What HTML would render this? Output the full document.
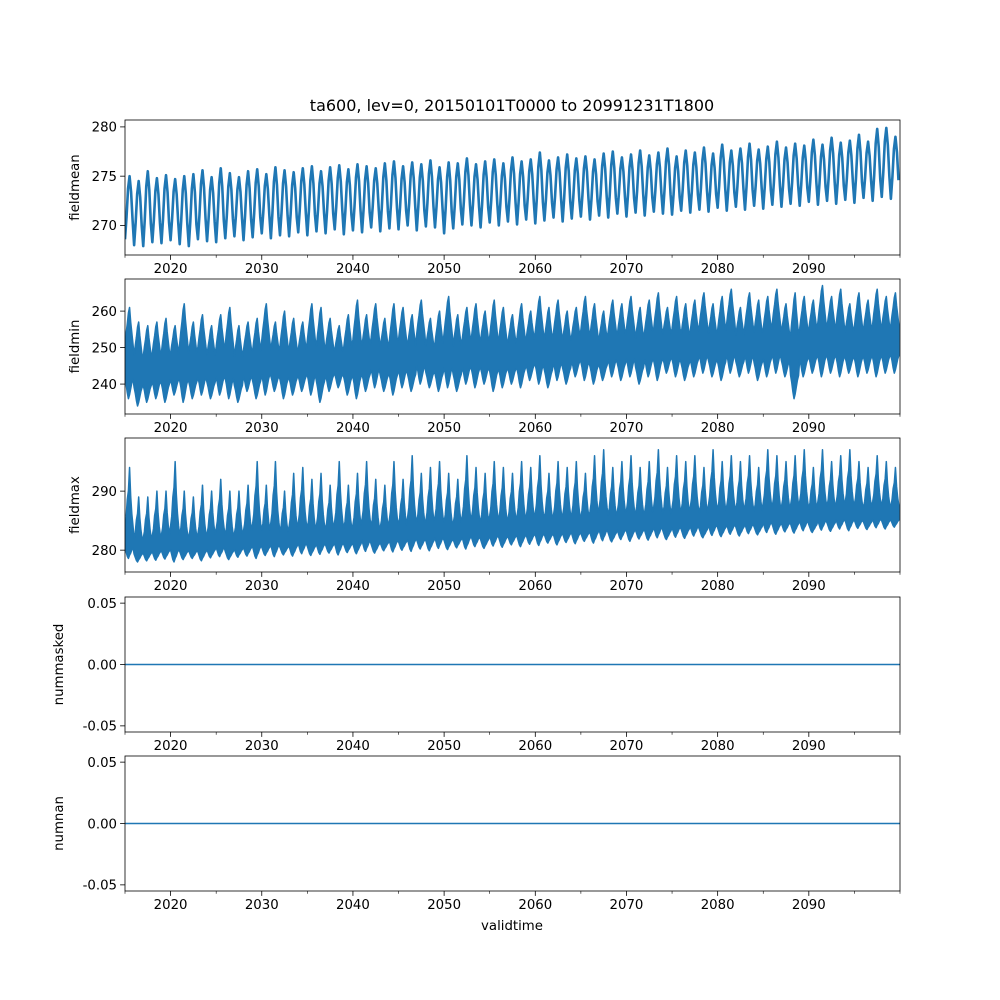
<!DOCTYPE html>
<html><head><meta charset="utf-8">
<style>
body{margin:0;background:#fff;}
svg{display:block;font-family:"DejaVu Sans","Liberation Sans",sans-serif;}
</style></head>
<body>
<svg id="fig" width="1000" height="1000" viewBox="0 0 1000 1000">
<rect width="1000" height="1000" fill="#fff"/>
<text x="512" y="111" font-size="16" text-anchor="middle">ta600, lev=0, 20150101T0000 to 20991231T1800</text>
<text x="512" y="930" font-size="13.3" text-anchor="middle">validtime</text>
</svg>
<script>
// ---- data ----
const startYear = 2015;
const xTicks = [2020,2030,2040,2050,2060,2070,2080,2090];
const xMinorTicks = [2015,2025,2035,2045,2055,2065,2075,2085,2095,2100];
const meanHi = [275.0,274.5,275.5,274.8,275.1,274.7,275.0,275.2,275.6,274.9,275.8,275.3,274.9,275.5,275.7,275.2,275.9,275.6,275.4,275.8,276.0,275.5,275.9,276.1,275.7,276.2,276.0,275.8,276.3,276.5,276.0,276.4,276.2,276.6,275.9,276.4,276.3,276.8,276.2,276.5,276.7,276.3,276.9,276.5,276.7,277.4,276.6,276.9,277.2,276.8,277.0,276.7,277.3,277.5,276.9,277.2,277.6,277.1,277.4,277.8,277.0,277.6,277.4,277.9,277.3,278.2,277.6,277.8,278.3,277.7,278.0,278.5,277.9,278.3,278.1,278.7,278.2,278.9,278.4,278.6,279.2,278.5,279.8,279.9,279.0];
const meanLo = [268.6,268.0,267.9,268.3,268.2,268.5,268.1,267.9,268.6,268.4,268.3,268.7,268.9,268.5,268.8,269.2,268.7,269.0,268.9,269.3,269.0,269.4,269.2,269.6,269.1,269.5,269.3,269.8,269.4,269.7,269.6,270.0,269.5,269.9,269.8,269.2,269.7,270.1,270.0,269.8,270.3,270.0,270.4,270.1,270.6,270.2,270.5,270.8,270.4,270.7,270.9,270.6,271.0,270.8,271.2,270.9,271.3,271.0,271.4,271.2,271.1,271.5,271.3,271.6,271.4,271.8,271.5,271.9,271.6,272.0,271.7,272.1,271.9,272.2,272.0,272.4,272.1,272.5,272.2,272.6,272.3,272.8,272.5,272.9,272.7];
const minHi = [261,257,256,257,258,256,262,257,259,256,259,261,256,257,258,262,257,260,258,257,262,261,258,256,259,263,259,262,258,262,261,259,263,258,260,264,259,261,262,260,263,261,259,262,260,264,261,263,260,261,264,262,260,263,262,264,261,263,265,261,264,262,263,265,262,264,266,261,265,263,264,266,262,265,264,263,267,264,266,262,265,263,266,264,265];
const minLo = [236,234,235,236,235,237,235,236,237,236,237,236,235,238,236,237,238,236,237,238,237,235,238,239,237,236,238,239,238,237,239,238,240,239,238,239,238,240,239,240,238,239,240,239,241,240,239,241,240,242,241,240,241,242,241,242,240,242,241,243,242,241,242,243,242,241,243,242,243,241,242,243,242,236,242,243,242,243,242,243,242,243,242,243,243];
const maxHi = [294,289,289,290,290,295,290,289,291,290,292,290,290,291,295,291,295,290,293,294,292,293,291,295,291,293,295,292,291,295,292,296,293,294,295,293,292,296,294,293,295,294,293,295,294,296,293,295,294,295,293,296,297,294,295,296,294,295,297,294,296,295,296,294,297,295,296,295,296,294,297,296,295,296,297,294,297,295,296,297,295,294,296,295,294];
const maxLo = [278.6,278.0,278.2,278.3,278.5,278.0,278.4,278.6,278.2,278.7,278.9,278.4,278.8,279.0,278.6,279.1,278.9,279.2,279.0,279.4,279.1,279.3,279.5,279.2,279.6,279.4,279.8,279.5,279.9,279.7,280.0,279.8,280.2,279.9,280.3,280.1,280.4,280.2,280.6,280.3,280.7,280.5,280.9,280.6,281.0,280.8,281.2,280.9,281.3,281.1,281.5,281.2,281.6,281.4,281.8,281.5,281.9,281.7,282.1,281.8,282.2,282.0,282.4,282.1,282.5,282.3,282.7,282.4,282.8,282.6,283.0,282.7,283.1,282.9,283.3,283.0,283.4,283.2,283.6,283.3,283.7,283.5,283.8,283.6,283.9];
const zeroSeries = [0,0];

const NS = "http://www.w3.org/2000/svg";
const svg = document.getElementById('fig');
const X0 = 125, X1 = 900;
function xScale(y){ return X0 + (y - 2015) / 85 * (X1 - X0); }
function mk(tag, attrs, parent){ const e=document.createElementNS(NS,tag); for(const k in attrs) e.setAttribute(k,attrs[k]); (parent||svg).appendChild(e); return e; }

const panels = [
 {name:'fieldmean', top:120, bot:255, ymin:267.0, ymax:280.7, ticks:[270,275,280], fmt:v=>String(v), kind:'cycle', lo:meanLo, hi:meanHi},
 {name:'fieldmin', top:279, bot:414, ymin:231.8, ymax:268.8, ticks:[240,250,260], fmt:v=>String(v), kind:'band', lo:minLo, hi:minHi, ub:0.6, lb:0.22,
   upPat:[0,0.3,0.55,0.85,1.0,0.6,0.3,0], loPat:[1,0.7,0.3,0.0,0.2,0.5,0.8,1]},
 {name:'fieldmax', top:438, bot:572, ymin:276.3, ymax:299.0, ticks:[280,290], fmt:v=>String(v), kind:'band', lo:maxLo, hi:maxHi, ub:0.36, lb:0.12,
   upPat:[0,0.15,0.45,0.6,1.0,0.5,0.2,0], loPat:[1,0.6,0.2,0.0,0.3,0.5,0.8,1]},
 {name:'nummasked', top:597, bot:732, ymin:-0.055, ymax:0.055, ticks:[-0.05,0,0.05], fmt:v=>v.toFixed(2), kind:'zero'},
 {name:'numnan', top:756, bot:891, ymin:-0.055, ymax:0.055, ticks:[-0.05,0,0.05], fmt:v=>v.toFixed(2), kind:'zero'}
];
const cyc = [0,0.35,0.8,1,0.75,0.3];

panels.forEach((p,pi)=>{
  const g = mk('g',{});
  
  
  const yS = v => p.bot - (v - p.ymin)/(p.ymax - p.ymin)*(p.bot - p.top);
  const cp = mk('clipPath',{id:'c'+pi},g);
  mk('rect',{x:X0,y:p.top,width:X1-X0,height:p.bot-p.top},cp);
  let d='', fill='none', sw=1.5;
  if(p.kind==='zero'){
    d = 'M'+xScale(2015)+','+yS(zeroSeries[0])+'L'+xScale(2100)+','+yS(zeroSeries[1]);
  } else if(p.kind==='cycle'){
    const pts=[];
    for(let i=0;i<p.hi.length;i++){
      cyc.forEach((f,j)=>{ pts.push([xScale(startYear+i+j/cyc.length), yS(p.lo[i]+f*(p.hi[i]-p.lo[i]))]); });
    }
    d = 'M'+pts.map(q=>q[0].toFixed(2)+','+q[1].toFixed(2)).join('L');
    sw=2.6;
  } else {
    const up=[], dn=[];
    for(let i=0;i<p.hi.length;i++){
      const lo=p.lo[i], hi=p.hi[i];
      const ub = lo + p.ub*(hi-lo), lb = lo + p.lb*(hi-lo);
      const n=p.upPat.length;
      p.upPat.forEach((f,j)=>{ up.push([xScale(startYear+i+j/n), yS(ub+f*(hi-ub))]); });
      p.loPat.forEach((f,j)=>{ dn.push([xScale(startYear+i+j/n), yS(lo+f*(lb-lo))]); });
    }
    const all = up.concat(dn.reverse());
    d = 'M'+all.map(q=>q[0].toFixed(2)+','+q[1].toFixed(2)).join('L')+'Z';
    fill='#1f77b4';
  }
  const line = mk('path',{d:d,fill:fill,stroke:'#1f77b4','stroke-width':sw,'clip-path':'url(#c'+pi+')','stroke-linejoin':'round'},g);
  
  
  const frame = mk('rect',{x:X0,y:p.top,width:X1-X0,height:p.bot-p.top,fill:'none',stroke:'#000','stroke-width':0.8},g);
  
  
  xTicks.forEach(t=>{
    const x=xScale(t);
    mk('line',{x1:x,x2:x,y1:p.bot,y2:p.bot+4.9,stroke:'#000','stroke-width':0.8},g);
    const tx = mk('text',{x:x,y:p.bot+18,'font-size':13.3,'text-anchor':'middle'},g);
    tx.textContent=t;
    
    
  });
  xMinorTicks.forEach(t=>{
    const x=xScale(t);
    mk('line',{x1:x,x2:x,y1:p.bot,y2:p.bot+2.8,stroke:'#000','stroke-width':0.6},g);
  });
  p.ticks.forEach(t=>{
    const y=yS(t);
    mk('line',{x1:X0-4.9,x2:X0,y1:y,y2:y,stroke:'#000','stroke-width':0.8},g);
    const tx = mk('text',{x:X0-8,y:y+4.8,'font-size':13.3,'text-anchor':'end'},g);
    tx.textContent=p.fmt(t);
    
    
  });
  const lx = p.kind==='zero'?63:79;
  const yl = mk('text',{x:lx,y:(p.top+p.bot)/2,'font-size':13.3,'text-anchor':'middle',transform:'rotate(-90 '+lx+' '+((p.top+p.bot)/2)+')'},g);
  yl.textContent=p.name;
  
  
});
</script>
</body></html>
